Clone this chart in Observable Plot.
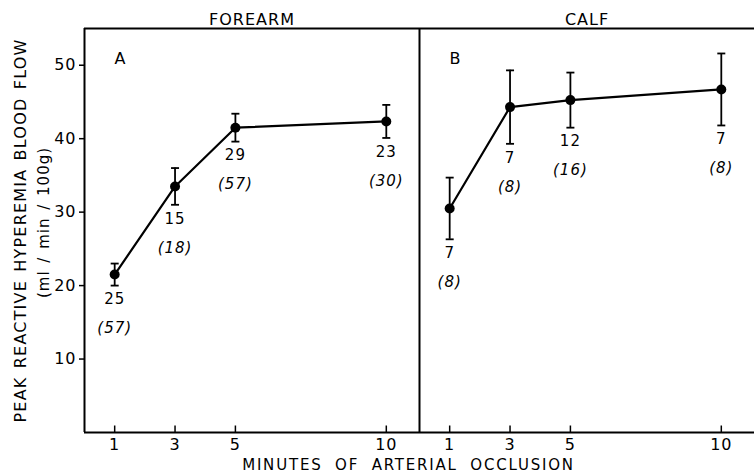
<!DOCTYPE html>
<html>
<head>
<meta charset="utf-8">
<script src="https://cdn.jsdelivr.net/npm/d3@7"></script>
<script src="https://cdn.jsdelivr.net/npm/@observablehq/plot@0.6"></script>
<style>
  body { margin: 0; background: #fff; }
  svg text { letter-spacing: 1px; }
  g[aria-description="ylabel"] text { letter-spacing: 1.2px; word-spacing: 2px; }
  g[aria-description="yunits"] text { letter-spacing: 1px; word-spacing: 2px; }
  g[aria-description="xlabel"] text { letter-spacing: 1.8px; word-spacing: 6px; }
</style>
</head>
<body>
<div id="chart"></div>
<script>
// ---- data ----
const limbs = ["FOREARM", "CALF"];
const panelLetters = ["A", "B"];
const minutes = [1, 3, 5, 10];
const forearmFlow = [21.5, 33.5, 41.5, 42.35];
const forearmSE = [1.5, 2.5, 1.9, 2.25];
const forearmSubjects = [25, 15, 29, 23];
const forearmTests = [57, 18, 57, 30];
const calfFlow = [30.5, 44.3, 45.25, 46.7];
const calfSE = [4.2, 5.0, 3.75, 4.9];
const calfSubjects = [7, 7, 12, 7];
const calfTests = [8, 8, 16, 8];
const xTicks = [1, 3, 5, 10];
const yTicks = [10, 20, 30, 40, 50];
const yLabel = "PEAK REACTIVE HYPEREMIA BLOOD FLOW";
const yUnits = "(ml / min / 100g)";
const xLabel = "MINUTES OF ARTERIAL OCCLUSION";

// ---- build table ----
const series = {
  FOREARM: {flow: forearmFlow, se: forearmSE, subjects: forearmSubjects, tests: forearmTests},
  CALF: {flow: calfFlow, se: calfSE, subjects: calfSubjects, tests: calfTests}
};
const rows = limbs.flatMap(limb => minutes.map((m, i) => {
  const s = series[limb];
  return {limb, minutes: m, flow: s.flow[i], lo: s.flow[i] - s.se[i], hi: s.flow[i] + s.se[i],
          subjects: s.subjects[i], tests: s.tests[i]};
}));
const letters = limbs.map((limb, i) => ({limb, letter: panelLetters[i]}));

const hline = {draw(ctx, size) { const r = Math.sqrt(size / Math.PI); ctx.moveTo(-r, 0); ctx.lineTo(r, 0); }};
const vline = {draw(ctx, size) { const r = Math.sqrt(size / Math.PI); ctx.moveTo(0, -r); ctx.lineTo(0, r); }};

const chart = Plot.plot({
  width: 754,
  height: 476,
  marginTop: 28,
  marginLeft: 83,
  marginRight: 0,
  marginBottom: 44,
  style: {fontFamily: "DejaVu Sans", fontSize: "15px", color: "black", background: "white"},
  fx: {domain: limbs, padding: 0},
  x: {domain: [0, 11.1]},
  y: {domain: [0, 55]},
  marks: [
    Plot.axisFx({anchor: "top", tickSize: 0, tickPadding: 4, fontSize: 16, label: null}),
    Plot.axisY({ticks: yTicks, tickSize: 5, tickPadding: 3, fontSize: 16, label: null, strokeWidth: 1.5}),
    Plot.axisX({ticks: xTicks, tickSize: 0, tickPadding: 6, fontSize: 16, label: null}),
    Plot.dot(xTicks, {x: d => d, frameAnchor: "bottom", symbol: vline, r: 3.5, dy: -3.5, fill: "none", stroke: "black", strokeWidth: 1.5}),
    Plot.ruleY([0], {stroke: "black", strokeWidth: 2}),
    Plot.ruleY([55], {stroke: "black", strokeWidth: 2}),
    Plot.ruleX([0], {stroke: "black", strokeWidth: 2}),
    Plot.ruleX(rows, {x: "minutes", y1: "lo", y2: "hi", fx: "limb", stroke: "black", strokeWidth: 1.8}),
    Plot.dot(rows, {x: "minutes", y: "hi", fx: "limb", symbol: hline, r: 4, fill: "none", stroke: "black", strokeWidth: 1.8}),
    Plot.dot(rows, {x: "minutes", y: "lo", fx: "limb", symbol: hline, r: 4, fill: "none", stroke: "black", strokeWidth: 1.8}),
    Plot.line(rows, {x: "minutes", y: "flow", fx: "limb", stroke: "black", strokeWidth: 2.2}),
    Plot.dot(rows, {x: "minutes", y: "flow", fx: "limb", r: 5, fill: "black"}),
    Plot.text(rows, {x: "minutes", y: "lo", fx: "limb", text: d => String(d.subjects), dy: 14, fontSize: 15}),
    Plot.text(rows, {x: "minutes", y: "lo", fx: "limb", text: d => `(${d.tests})`, dy: 43, fontSize: 15, fontStyle: "italic"}),
    Plot.text(letters, {fx: "limb", text: "letter", frameAnchor: "top-left", dx: 30, dy: 24, fontSize: 16}),
    Plot.text([{limb: "FOREARM"}], {fx: "limb", text: () => yLabel, frameAnchor: "left", rotate: -90, dx: -64, fontSize: 16, textAnchor: "middle", ariaDescription: "ylabel"}),
    Plot.text([{limb: "FOREARM"}], {fx: "limb", text: () => yUnits, frameAnchor: "left", rotate: -90, dx: -40, dy: -8, fontSize: 15, textAnchor: "middle", ariaDescription: "yunits"}),
    Plot.text([{limb: "FOREARM"}], {fx: "limb", text: () => xLabel, frameAnchor: "bottom-right", dx: -11, dy: 37, fontSize: 15, textAnchor: "middle", ariaDescription: "xlabel"})
  ]
});
document.getElementById("chart").appendChild(chart);
</script>
</body>
</html>
